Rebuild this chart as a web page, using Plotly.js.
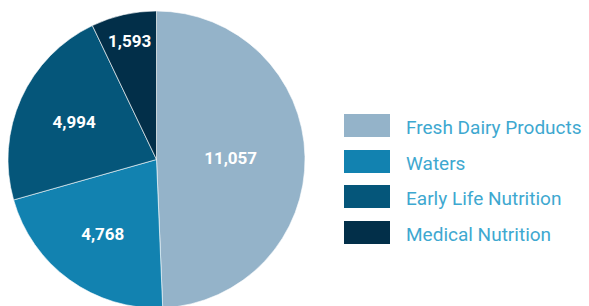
<!DOCTYPE html>
<html>
<head>
<meta charset="utf-8">
<script src="https://cdn.plot.ly/plotly-3.0.1.min.js"></script>
<style>html,body{margin:0;padding:0;overflow:hidden;background:#fff;}</style>
</head>
<body>
<div id="chart"></div>
<script>
var categories = ["Fresh Dairy Products", "Waters", "Early Life Nutrition", "Medical Nutrition"];
var values = [11057, 4768, 4994, 1593];
var colors = ["#94b3c9", "#1282b0", "#05567a", "#022f49"];

var W = 589, H = 310;
function px(x) { return x / W; }
function py(y) { return (H - y) / H; }

var shapes = [], annotations = [];
var rowTop = [114, 150, 185, 221];
for (var i = 0; i < categories.length; i++) {
  shapes.push({type: "rect", xref: "paper", yref: "paper",
    x0: px(344), x1: px(390), y0: py(rowTop[i]), y1: py(rowTop[i] + 23),
    fillcolor: colors[i], line: {width: 0}});
  annotations.push({xref: "paper", yref: "paper", x: px(404), y: py(rowTop[i] + 13),
    xanchor: "left", yanchor: "middle", showarrow: false, text: categories[i],
    font: {family: "Roboto", size: 19, color: "#3ea8d0"}});
}

var data = [{
  type: "pie",
  labels: categories,
  values: values,
  sort: false,
  direction: "clockwise",
  rotation: 0,
  marker: {colors: colors, line: {color: "#ffffff", width: 0.6}},
  texttemplate: "%{value:,}",
  textposition: "inside",
  insidetextorientation: "horizontal",
  textfont: {family: "Roboto", size: 17, color: "#ffffff", weight: "bold"},
  domain: {x: [px(8), px(305)], y: [2 / H, 299 / H]},
  hoverinfo: "label+value",
  showlegend: false
}];

var layout = {
  width: W, height: H,
  margin: {l: 0, r: 0, t: 0, b: 0},
  paper_bgcolor: "#ffffff",
  showlegend: false,
  shapes: shapes,
  annotations: annotations
};

Plotly.newPlot("chart", data, layout, {displayModeBar: false, staticPlot: true});
</script>
</body>
</html>
